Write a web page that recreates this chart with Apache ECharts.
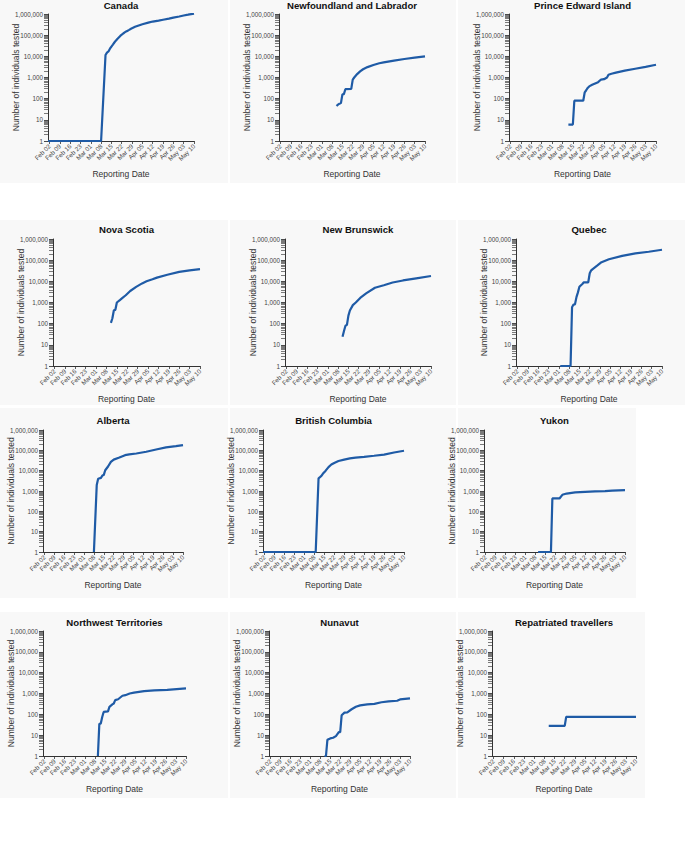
<!DOCTYPE html>
<html><head><meta charset="utf-8">
<script src="https://cdn.jsdelivr.net/npm/echarts@6/dist/echarts.min.js"></script>
<style>html,body{margin:0;padding:0;background:#fff}#c{width:685px;height:843px}</style>
</head><body><div id="c"></div>
<script>
// ---- data ----
const xTickDates = ["2020-02-02","2020-02-09","2020-02-16","2020-02-23","2020-03-01","2020-03-08","2020-03-15","2020-03-22","2020-03-29","2020-04-05","2020-04-12","2020-04-19","2020-04-26","2020-05-03","2020-05-10"];
const xDomain = ["2020-02-01","2020-05-10"];
const yDomain = [1, 1000000];

const canada = [["2020-02-01",1],["2020-03-08",1],["2020-03-11",11500],["2020-03-12",15000],["2020-03-13",17000],["2020-03-14",23000],["2020-03-15",29000],["2020-03-16",36000],["2020-03-17",45000],["2020-03-18",55000],["2020-03-19",66000],["2020-03-20",78000],["2020-03-21",92000],["2020-03-22",105000],["2020-03-23",120000],["2020-03-24",135000],["2020-03-25",150000],["2020-03-26",163000],["2020-03-27",178000],["2020-03-28",195000],["2020-03-29",215000],["2020-03-31",250000],["2020-04-02",280000],["2020-04-05",330000],["2020-04-09",390000],["2020-04-12",440000],["2020-04-16",490000],["2020-04-19",535000],["2020-04-23",600000],["2020-04-26",670000],["2020-04-30",760000],["2020-05-03",850000],["2020-05-06",930000],["2020-05-10",1050000]];
const newfoundland = [["2020-03-11",45],["2020-03-12",52],["2020-03-13",58],["2020-03-14",62],["2020-03-15",160],["2020-03-16",165],["2020-03-17",280],["2020-03-21",290],["2020-03-22",800],["2020-03-23",1000],["2020-03-25",1450],["2020-03-27",1950],["2020-03-29",2450],["2020-04-01",3100],["2020-04-05",3900],["2020-04-09",4700],["2020-04-12",5200],["2020-04-16",5800],["2020-04-19",6300],["2020-04-26",7500],["2020-05-03",8700],["2020-05-10",10000]];
const pei = [["2020-03-12",6],["2020-03-15",6],["2020-03-16",80],["2020-03-22",80],["2020-03-23",200],["2020-03-24",250],["2020-03-25",320],["2020-03-26",380],["2020-03-28",450],["2020-03-30",520],["2020-04-01",600],["2020-04-03",800],["2020-04-05",830],["2020-04-07",1000],["2020-04-08",1350],["2020-04-10",1500],["2020-04-13",1700],["2020-04-19",2100],["2020-04-26",2600],["2020-05-03",3200],["2020-05-10",4000]];
const novaScotia = [["2020-03-11",110],["2020-03-12",180],["2020-03-13",430],["2020-03-14",450],["2020-03-15",1000],["2020-03-17",1300],["2020-03-19",1700],["2020-03-21",2200],["2020-03-24",3500],["2020-03-28",5500],["2020-04-01",8000],["2020-04-04",10000],["2020-04-08",12500],["2020-04-11",15000],["2020-04-18",20500],["2020-04-26",28000],["2020-05-03",33000],["2020-05-10",38000]];
const newBrunswick = [["2020-03-11",24],["2020-03-12",45],["2020-03-13",80],["2020-03-14",88],["2020-03-15",240],["2020-03-16",420],["2020-03-18",750],["2020-03-20",1000],["2020-03-23",1650],["2020-03-27",2700],["2020-04-02",5000],["2020-04-08",6500],["2020-04-14",8800],["2020-04-21",11000],["2020-04-30",13800],["2020-05-10",17800]];
const quebec = [["2020-03-02",1],["2020-03-09",1],["2020-03-10",600],["2020-03-11",800],["2020-03-12",820],["2020-03-13",1800],["2020-03-14",3000],["2020-03-15",5500],["2020-03-17",7500],["2020-03-18",9000],["2020-03-21",9000],["2020-03-22",24000],["2020-03-23",33000],["2020-03-24",38000],["2020-03-27",55000],["2020-03-30",80000],["2020-04-04",110000],["2020-04-13",160000],["2020-04-22",210000],["2020-05-01",250000],["2020-05-10",310000]];
const alberta = [["2020-03-08",1],["2020-03-10",2000],["2020-03-11",4000],["2020-03-13",4400],["2020-03-14",5800],["2020-03-15",6200],["2020-03-16",10500],["2020-03-18",16000],["2020-03-20",27000],["2020-03-22",35000],["2020-03-26",44000],["2020-03-30",58000],["2020-04-02",63000],["2020-04-07",70000],["2020-04-14",85000],["2020-04-21",110000],["2020-04-28",140000],["2020-05-05",160000],["2020-05-10",182000]];
const britishColumbia = [["2020-02-01",1],["2020-03-09",1],["2020-03-11",4200],["2020-03-12",4800],["2020-03-13",5500],["2020-03-14",7000],["2020-03-16",10000],["2020-03-18",15000],["2020-03-20",20000],["2020-03-22",24000],["2020-03-25",30000],["2020-03-29",35000],["2020-04-02",40000],["2020-04-06",44000],["2020-04-12",48000],["2020-04-19",54000],["2020-04-26",62000],["2020-05-03",78000],["2020-05-10",95000]];
const yukon = [["2020-03-10",1],["2020-03-19",1],["2020-03-20",430],["2020-03-25",430],["2020-03-27",650],["2020-03-30",750],["2020-04-05",850],["2020-04-12",900],["2020-04-19",950],["2020-04-26",980],["2020-05-01",1050],["2020-05-10",1100]];
const nwt = [["2020-03-10",1],["2020-03-11",35],["2020-03-12",36],["2020-03-13",75],["2020-03-14",130],["2020-03-17",140],["2020-03-18",230],["2020-03-20",300],["2020-03-21",330],["2020-03-22",480],["2020-03-24",530],["2020-03-27",780],["2020-03-29",830],["2020-04-01",1000],["2020-04-04",1100],["2020-04-11",1300],["2020-04-18",1400],["2020-04-27",1500],["2020-05-10",1750]];
const nunavut = [["2020-03-11",1],["2020-03-12",1],["2020-03-13",6],["2020-03-15",7],["2020-03-17",7.5],["2020-03-19",9],["2020-03-21",14],["2020-03-22",14],["2020-03-23",90],["2020-03-25",120],["2020-03-27",125],["2020-03-30",175],["2020-04-02",230],["2020-04-05",270],["2020-04-10",300],["2020-04-15",320],["2020-04-20",380],["2020-04-25",420],["2020-05-01",450],["2020-05-03",520],["2020-05-10",580]];
const repatriated = [["2020-03-11",28],["2020-03-22",28],["2020-03-23",75],["2020-05-10",75]];

// ---- layout (positions only) ----
const panels = [
  {title:'Canada', data:canada, g:[48,14,146,127], bg:[0,0,228,183], ty:0},
  {title:'Newfoundland and Labrador', data:newfoundland, g:[279,14,146,127], bg:[230,0,226,183], ty:0},
  {title:'Prince Edward Island', data:pei, g:[509,14,147,127], bg:[458,0,227,183], ty:0},
  {title:'Nova Scotia', data:novaScotia, g:[53,239,147,127], bg:[0,220,228,185], ty:224},
  {title:'New Brunswick', data:newBrunswick, g:[285,239,146,127], bg:[230,220,226,185], ty:224},
  {title:'Quebec', data:quebec, g:[516,239,146,127], bg:[458,220,227,185], ty:224},
  {title:'Alberta', data:alberta, g:[43,430,140,122], bg:[0,408,228,190], ty:415},
  {title:'British Columbia', data:britishColumbia, g:[263,430,141,122], bg:[230,408,226,190], ty:415},
  {title:'Yukon', data:yukon, g:[484,430,141,122], bg:[458,408,178,190], ty:415},
  {title:'Northwest Territories', data:nwt, g:[43,631,143,125], bg:[0,612,228,186], ty:617},
  {title:'Nunavut', data:nunavut, g:[269,631,141,125], bg:[230,612,226,186], ty:617},
  {title:'Repatriated travellers', data:repatriated, g:[492,631,144,125], bg:[458,612,187,186], ty:617}
];

const FONT = '"Liberation Sans", Arial, Helvetica, sans-serif';
const LINE = '#1f5ba6';
const MONTHS = ['Jan','Feb','Mar','Apr','May','Jun'];
function ts(s){ const p = s.split('-').map(Number); return Date.UTC(p[0], p[1]-1, p[2]); }
function fmtDate(v){ const d = new Date(v); const dd = d.getUTCDate(); return MONTHS[d.getUTCMonth()] + ' ' + (dd < 10 ? '0' + dd : dd); }
const xTicks = xTickDates.map(ts);
const minorTicks = [];
for (let k = 0; k < 6; k++) for (let m = 1; m <= 9; m++) minorTicks.push(Math.log10(m) + k);
minorTicks.push(6);

const option = {
  animation: false,
  backgroundColor: '#ffffff',
  textStyle: {fontFamily: FONT},
  graphic: panels.map(p => ({type:'rect', z:-10, silent:true, shape:{x:p.bg[0], y:p.bg[1], width:p.bg[2], height:p.bg[3]}, style:{fill:'#f8f8f8'}})),
  title: panels.map(p => ({text:p.title, left:p.g[0] + p.g[2]/2, top:p.ty, textAlign:'center', padding:0,
    textStyle:{fontFamily:FONT, fontSize:9.6, fontWeight:'bold', color:'#111'}})),
  grid: panels.map(p => ({left:p.g[0], top:p.g[1], width:p.g[2], height:p.g[3], containLabel:false, outerBoundsMode:'none'})),
  xAxis: panels.map((p, i) => ({
    gridIndex:i, type:'value', min:ts(xDomain[0]), max:ts(xDomain[1]), scale:true,
    splitLine:{show:false},
    axisLine:{show:true, onZero:false, lineStyle:{color:'#333', width:1}},
    axisTick:{show:true, length:3, customValues:xTicks, lineStyle:{color:'#333', width:0.8}},
    axisLabel:{customValues:xTicks, rotate:45, fontSize:6.3, color:'#444', margin:4, formatter:fmtDate, fontFamily:FONT, hideOverlap:false, showMinLabel:true, showMaxLabel:true},
    name:'Reporting Date', nameLocation:'middle', nameGap:28, nameMoveOverlap:false,
    nameTextStyle:{fontSize:8.5, color:'#333', fontFamily:FONT}
  })),
  yAxis: panels.flatMap((p, i) => ([
    {gridIndex:i, type:'log', logBase:10, min:yDomain[0], max:yDomain[1], splitNumber:6, position:'left',
      splitLine:{show:false},
      axisLine:{show:true, onZero:false, lineStyle:{color:'#333', width:1}},
      axisTick:{show:true, length:4, lineStyle:{color:'#333', width:0.8}},
      axisLabel:{fontSize:6.3, color:'#444', margin:5, fontFamily:FONT, formatter:v => Math.round(v).toLocaleString('en-US')},
      name:'Number of individuals tested', nameLocation:'middle', nameGap:27.5, nameMoveOverlap:false,
      nameTextStyle:{fontSize:8.5, color:'#333', fontFamily:FONT}},
    {gridIndex:i, type:'value', min:0, max:6, position:'left', offset:0,
      splitLine:{show:false}, axisLine:{show:false, onZero:false}, axisLabel:{show:false},
      axisTick:{show:true, length:4, customValues:minorTicks, lineStyle:{color:'#444', width:0.7}}}
  ])),
  series: panels.map((p, i) => ({
    type:'line', name:p.title, xAxisIndex:i, yAxisIndex:2*i, showSymbol:false, smooth:false,
    lineStyle:{color:LINE, width:2.2}, itemStyle:{color:LINE},
    data:p.data.map(d => [ts(d[0]), d[1]])
  }))
};
const chart = echarts.init(document.getElementById('c'), null, {renderer:'svg'});
chart.setOption(option);
</script></body></html>
